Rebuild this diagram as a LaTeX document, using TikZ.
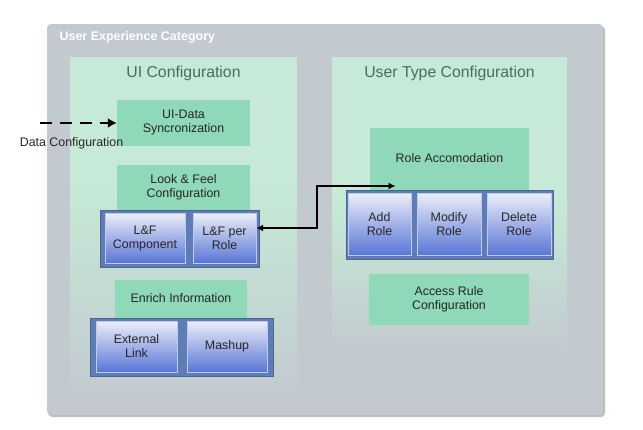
\documentclass[tikz,border=0pt]{standalone}
\usepackage{fontspec}
\setmainfont{Liberation Sans}
\usetikzlibrary{arrows.meta}
\definecolor{outergrey}{HTML}{C2CACF}
\definecolor{panelmint}{HTML}{C6EAD7}
\definecolor{boxgreen}{HTML}{8FD8B8}
\definecolor{titlecol}{HTML}{4D6A62}
\definecolor{contblue}{HTML}{5E7DB6}
\definecolor{btop}{HTML}{ECEEF8}
\definecolor{bbot}{HTML}{5876D6}
\tikzset{
  greenbox/.style={fill=boxgreen, draw=none, inner sep=0pt, font=\fontsize{12.4}{14}\selectfont, align=center, text=black!85},
  bluecont/.style={fill=contblue, draw=contblue!80!black, line width=0.5pt},
  bluebox/.style={top color=btop, bottom color=bbot, draw=btop!70!bbot, line width=0.4pt, inner sep=0pt, font=\fontsize{12.4}{14}\selectfont, align=center, text=black!85},
  paneltitle/.style={font=\fontsize{15.8}{18}\selectfont, text=titlecol},
  link/.style={line width=1.6pt, black, -{Latex[length=7pt,width=7pt]}},
}
\begin{document}
\begin{tikzpicture}[x=1pt,y=-1pt]
\useasboundingbox (0,0) rectangle (643,429);
% outer box
\fill[black!25, rounded corners=4pt] (48,26) rectangle (605,417);
\fill[outergrey, rounded corners=4pt] (47,24) rectangle (603,415);
\node[anchor=west, text=white, font=\fontsize{12.5}{14}\bfseries] (cat) at (56,37) {User Experience Category};
% left panel
\fill[panelmint] (70,57) rectangle (297,180);
\shade[top color=panelmint, bottom color=outergrey] (70,180) rectangle (297,400);
% right panel
\fill[panelmint] (332,57) rectangle (567,200);
\shade[top color=panelmint, bottom color=outergrey] (332,200) rectangle (567,352);
\node[paneltitle] (uiconf) at (183.5,73) {UI Configuration};
\node[paneltitle] (utconf) at (449.5,73) {User Type Configuration};
% left contents
\node[greenbox, minimum width=133, minimum height=46] (sync) at (183.5,123) {UI-Data\\Syncronization};
\path[fill=boxgreen] (117,165) rectangle (250,212);
\node[greenbox] (lf) at (183.5,187) {Look \& Feel\\Configuration};
\node[bluecont, minimum width=159, minimum height=57, inner sep=0pt] (lfcont) at (179.5,238.5) {};
\node[bluebox, minimum width=80, minimum height=50] (lfcomp) at (145,238) {L\&F\\Component};
\node[bluebox, minimum width=63, minimum height=50] (lfrole) at (224.5,238) {L\&F per\\Role};
\path[fill=boxgreen] (115,280) rectangle (247,320);
\node[greenbox] (enrich) at (181,298.5) {Enrich Information};
\node[bluecont, minimum width=183, minimum height=58, inner sep=0pt] (encont) at (181.5,347) {};
\node[bluebox, minimum width=81, minimum height=51] (ext) at (136.5,346.5) {External\\Link};
\node[bluebox, minimum width=80, minimum height=51] (mash) at (227,346.5) {Mashup};
% right contents
\path[fill=boxgreen] (370,128) rectangle (529,192);
\node[greenbox] (roleacc) at (449.5,158) {Role Accomodation};
\node[bluecont, minimum width=207, minimum height=69, inner sep=0pt] (rolecont) at (449.5,224.5) {};
\node[bluebox, minimum width=63, minimum height=62] (add) at (379.5,224) {Add\\Role};
\node[bluebox, minimum width=64, minimum height=62] (mod) at (449,224) {Modify\\Role};
\node[bluebox, minimum width=64, minimum height=62] (del) at (519,224) {Delete\\Role};
\node[greenbox, minimum width=160, minimum height=51] (access) at (449,299.5) {Access Rule\\Configuration};
% connectors
\coordinate (dstart) at (40,123);
\draw[link, line width=2.6pt, dash pattern=on 12pt off 8pt, -{Latex[length=9pt,width=10pt]}] (dstart) -- (sync.west);
\node[font=\fontsize{12.4}{14}\selectfont, text=black!85] (dlabel) at (71.5,143) {Data Configuration};
\coordinate (bend1) at (317,228);
\coordinate (bend2) at (317,186);
\draw[link, {Latex[length=7pt,width=7pt]}-{Latex[length=7pt,width=7pt]}] (lfrole.east |- bend1) -- (bend1) -- (bend2) -- (bend2 -| roleacc.west);
\end{tikzpicture}
\end{document}
